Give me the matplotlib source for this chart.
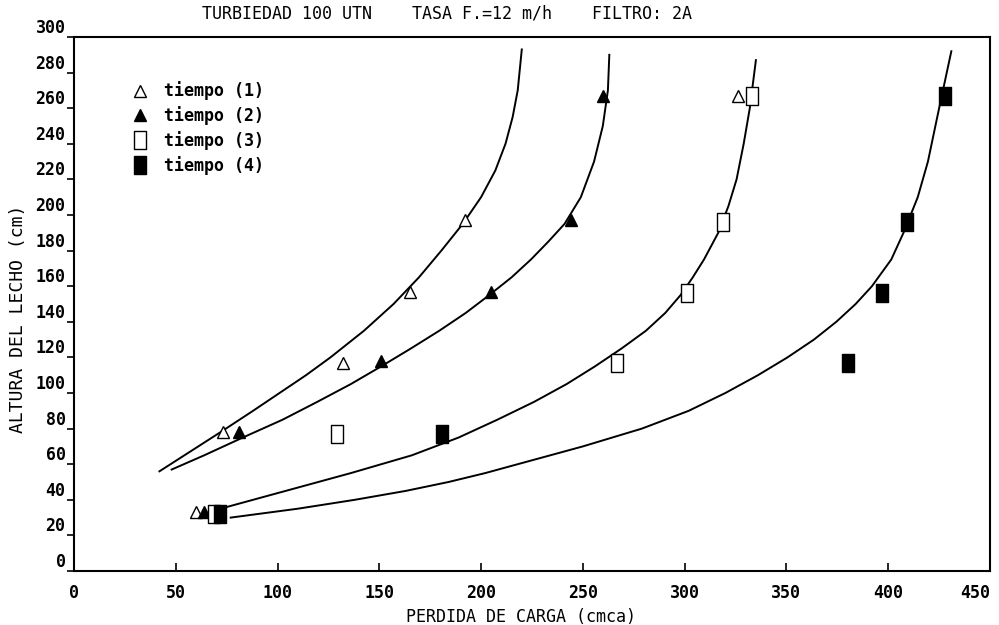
import matplotlib
matplotlib.use("Agg")
import matplotlib.pyplot as plt
from matplotlib.path import Path

# measured points (perdida de carga, altura del lecho)
t1_x = [60, 73, 132, 165, 192, 326]
t1_y = [33, 78, 117, 157, 197, 267]
t2_x = [64, 81, 151, 205, 244, 260]
t2_y = [33, 78, 118, 157, 197, 267]
t3_x = [69, 129, 267, 301, 319, 333]
t3_y = [32, 77, 117, 156, 196, 267]
t4_x = [72, 181, 380, 397, 409, 428]
t4_y = [32, 77, 117, 156, 196, 267]

# fitted curves
c1_x = [42, 57, 72, 88, 101, 114, 126, 142.5, 157, 169.5, 180.5, 191, 200, 207, 212, 215.5, 218, 220]
c1_y = [56, 67, 78, 90, 100, 110, 120, 135, 150, 165, 180, 195, 210, 225, 240, 255, 270, 293]
c2_x = [48, 64, 83, 102.5, 119.5, 136, 151, 165.5, 179.5, 192.5, 204, 215, 224.5, 233, 241, 249, 255.5, 259.8, 262.3, 263]
c2_y = [57, 65, 75, 85, 95, 105, 115, 125, 135, 145, 155, 165, 175, 185, 195, 210, 230, 250, 270, 290]
c3_x = [72, 104, 136, 166, 189, 208, 226, 242, 256, 269, 281, 290.5, 298, 304, 309.5, 316.5, 321.5, 325.5, 329, 332, 335]
c3_y = [35, 45, 55, 65, 75, 85, 95, 105, 115, 125, 135, 145, 155, 165, 175, 190, 205, 220, 240, 260, 287]
c4_x = [77, 110, 138, 163, 184, 202, 218, 234, 250, 279, 302, 320, 336, 350.5, 363.5, 374.5, 384, 392, 401.5, 407.5, 414.5, 419.5, 425, 431]
c4_y = [30, 35, 40, 45, 50, 55, 60, 65, 70, 80, 90, 100, 110, 120, 130, 140, 150, 160, 175, 190, 210, 230, 260, 292]

labels = ["tiempo (1)", "tiempo (2)", "tiempo (3)", "tiempo (4)"]

plt.rcParams['font.family'] = ['DejaVu Sans Mono']

rect = Path([(-0.33, -0.5), (0.33, -0.5), (0.33, 0.5), (-0.33, 0.5), (-0.33, -0.5)],
            [Path.MOVETO, Path.LINETO, Path.LINETO, Path.LINETO, Path.CLOSEPOLY])

fig = plt.figure(figsize=(9.99, 6.25), dpi=100)
ax = fig.add_axes([0.074, 0.0864, 0.917, 0.8544])

for cx, cy in [(c1_x, c1_y), (c2_x, c2_y), (c3_x, c3_y), (c4_x, c4_y)]:
    ax.plot(cx, cy, color='black', lw=1.4, solid_joinstyle='round')

h1, = ax.plot(t1_x, t1_y, ls='none', marker='^', ms=9, mfc='white', mec='black', mew=1.0)
h2, = ax.plot(t2_x, t2_y, ls='none', marker='^', ms=9, mfc='black', mec='black')
h3, = ax.plot(t3_x, t3_y, ls='none', marker=rect, ms=13, mfc='white', mec='black', mew=1.0)
h4, = ax.plot(t4_x, t4_y, ls='none', marker=rect, ms=13, mfc='black', mec='black')

ax.legend([h1, h2, h3, h4], labels, loc='upper left', bbox_to_anchor=(0.047, 0.945),
          frameon=False, handlelength=1.0, handletextpad=0.9, labelspacing=0.35,
          prop={'weight': 'bold', 'size': 12})

ax.set_xlim(0, 450)
ax.set_ylim(0, 300)
ax.set_xticks(range(0, 451, 50))
ax.set_yticks(range(0, 301, 20))
ax.tick_params(axis='x', direction='in', length=6, width=1.2, pad=9, labelsize=12)
ax.tick_params(axis='y', direction='out', length=5, width=1.2, pad=1, labelsize=12)
for lbl in ax.get_xticklabels() + ax.get_yticklabels():
    lbl.set_fontweight('bold')
for lbl in ax.get_yticklabels():
    lbl.set_verticalalignment('bottom')
ax.get_xticklabels()[-1].set_horizontalalignment('right')  # last label sits at the edge
for sp in ax.spines.values():
    sp.set_linewidth(1.5)

fig.text(0.447, 0.978, "TURBIEDAD 100 UTN    TASA F.=12 m/h    FILTRO: 2A",
         ha='center', va='center', fontsize=12)
fig.text(0.522, 0.013, "PERDIDA DE CARGA (cmca)", ha='center', va='center', fontsize=12)
fig.text(0.018, 0.49, "ALTURA DEL LECHO (cm)", ha='center', va='center',
         rotation=90, fontsize=13)

fig.savefig("out.png", dpi=100)
